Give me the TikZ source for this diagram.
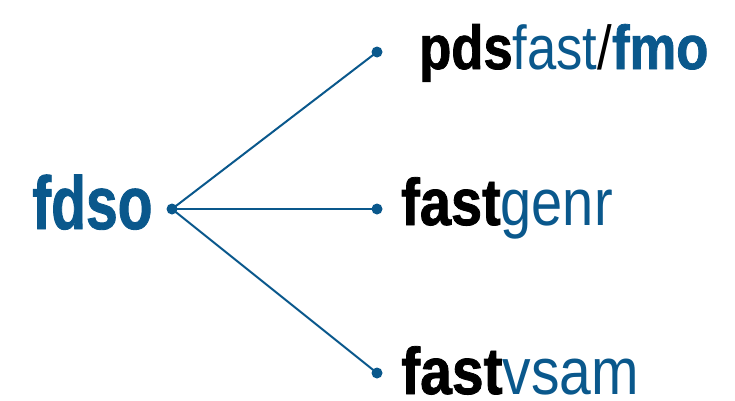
\documentclass[tikz,border=0pt]{standalone}
\usepackage{fontspec}
\usepackage{tikz}
\usetikzlibrary{positioning}
\usepackage{xcolor}
\newfontfamily\narrowsans[FakeStretch=0.8,BoldFeatures={FakeBold=1.2}]{Liberation Sans}
\definecolor{fdblue}{RGB}{10,88,140}

\begin{document}
\begin{tikzpicture}[x=1pt,y=1pt,
        dot/.style={circle, fill=fdblue, inner sep=0pt, minimum size=11pt},
        word/.style={anchor=base west, inner sep=0pt},
        link/.style={fdblue, line width=2pt}]
        \useasboundingbox (0,0) rectangle (735,400);
        \node[dot] (hub) at (172,191) {};
        \node[dot] (top) at (377,348) {};
        \node[dot] (mid) at (377,191) {};
        \node[dot] (bot) at (377,27) {};
        \draw[link] (hub.center) -- (top.center);
        \draw[link] (hub.center) -- (mid.center);
        \draw[link] (hub.center) -- (bot.center);
        \node[word, font=\narrowsans\fontsize{75}{75}\selectfont\bfseries, text=fdblue] (fdso) at (32,171)
            {\scalebox{0.95}[1]{fdso}};
        \node[word, font=\narrowsans\fontsize{62}{62}\selectfont] (pds) at (419,331)
            {\scalebox{1.06}[1]{\textbf{pds}\textcolor{fdblue}{fast}/\textcolor{fdblue}{\textbf{fmo}}}};
        \node[word, font=\narrowsans\fontsize{66}{66}\selectfont] (genr) at (401,175)
            {\scalebox{1.06}[1]{\textbf{fast}\textcolor{fdblue}{genr}}};
        \node[word, font=\narrowsans\fontsize{66}{66}\selectfont] (vsam) at (401,6)
            {\scalebox{1.08}[1]{\textbf{fast}\textcolor{fdblue}{vsam}}};
    \end{tikzpicture}
\end{document}
